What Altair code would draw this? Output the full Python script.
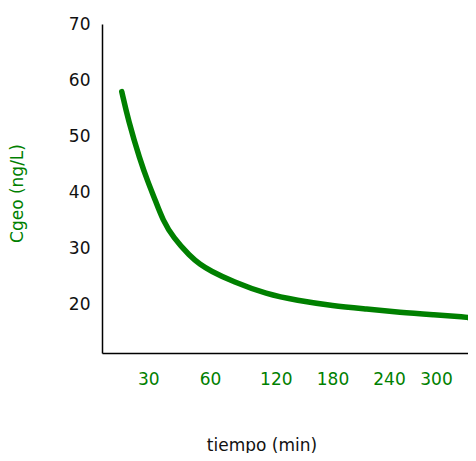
import altair as alt
import pandas as pd

# curve: time (min) and Cgeo (ng/L)
tiempo = [12.8, 17.0, 24.6, 30.0, 33.3, 37.0, 42.2, 50.3, 55.1, 60.0, 81.2,
          111.7, 142.1, 180.5, 216.3, 254.0, 296.2, 328.8, 330.0]
cgeo = [57.95, 52.9, 45.8, 41.7, 38.7, 35.1, 31.9, 28.65, 27.2, 26.07, 24.07,
        21.87, 20.77, 19.8, 19.23, 18.63, 18.22, 17.81, 17.7]

x_ticks = [30, 60, 120, 180, 240, 300]
y_ticks = [20, 30, 40, 50, 60, 70]

# uneven x axis of the original: piecewise scale
x_domain = [0, 30, 60, 120, 180, 240, 300, 330]
x_range = [0, 46.3, 108, 173.8, 230.5, 287, 334, 366]

df = pd.DataFrame({"tiempo": tiempo, "cgeo": cgeo})

FONT = "DejaVu Sans"
GREEN = "#008000"

chart = alt.Chart(df).mark_line(
    color=GREEN, strokeWidth=5.5, interpolate="basis", strokeCap="round"
).encode(
    x=alt.X(
        "tiempo:Q",
        scale=alt.Scale(domain=x_domain, range=x_range, zero=False, nice=False),
        axis=alt.Axis(
            values=x_ticks, title="tiempo (min)", grid=False, ticks=False,
            tickSize=0, labelPadding=18, labelColor=GREEN, labelFontSize=17,
            labelFont=FONT, labelBaseline="top", labelFlush=False,
            domainColor="#000000", domainWidth=1.5,
            titleFont=FONT, titleFontSize=17, titleFontWeight="normal",
            titleColor="#111111", titleX=159.5, titleY=97,
            titleBaseline="alphabetic", titleAlign="center",
        ),
    ),
    y=alt.Y(
        "cgeo:Q",
        scale=alt.Scale(domain=[11.4, 70], zero=False, nice=False),
        axis=alt.Axis(
            values=y_ticks, title="Cgeo (ng/L)", grid=False, ticks=False,
            tickSize=0, labelPadding=12, labelColor="#111111", labelFontSize=17,
            labelFont=FONT, labelFlush=False,
            domainColor="#000000", domainWidth=1.5,
            titleFont=FONT, titleFontSize=17, titleFontWeight="normal",
            titleColor=GREEN, titleAngle=-90, titleX=-85, titleY=169,
            titleBaseline="middle", titleAlign="center",
        ),
    ),
).properties(
    width=366,
    height=329,
    autosize=alt.AutoSizeParams(type="none"),
    padding={"left": 94, "top": 16, "right": 0, "bottom": 100},
    background="white",
).configure_view(stroke=None)

chart.save("out.html", embed_options={"renderer": "svg", "actions": False})
